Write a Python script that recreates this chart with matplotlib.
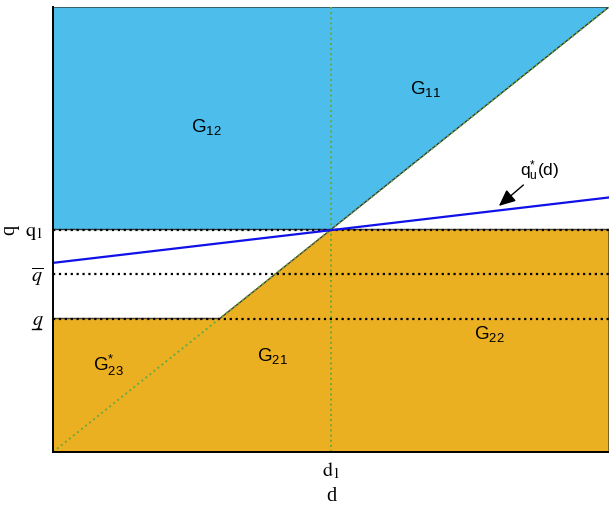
import matplotlib
matplotlib.use("Agg")
import matplotlib.pyplot as plt
import matplotlib.transforms as mtransforms
from matplotlib.lines import Line2D

plt.rcParams["font.family"] = ["Liberation Sans", "DejaVu Sans"]
plt.rcParams["mathtext.fontset"] = "custom"
plt.rcParams["mathtext.rm"] = "Liberation Sans"
plt.rcParams["mathtext.it"] = "Liberation Sans:italic"

# threshold levels
d1 = 0.5
q1 = 0.5
q_bar = 0.4
q_low = 0.3

# q_u*(d) line: values at d=0 and d=1
qu_d = [0.0, 1.0]
qu_q = [0.425, 0.572]

# region labels
region_names = [r"G$_{12}$", r"G$_{11}$", r"G$_{21}$", r"G$_{22}$", r"G$_{23}^{*}$"]
region_x = [0.275, 0.67, 0.395, 0.785, 0.10]
region_y = [0.73, 0.815, 0.215, 0.265, 0.195]

blue_fill = "#4DBDEC"
orange_fill = "#EBB022"
green = "#6BA83C"

fig = plt.figure(figsize=(6.09, 5.07), dpi=100)
ax = fig.add_axes([53 / 609, 55 / 507, 556 / 609, 445 / 507])

# G1 region: above q1 and above the diagonal
ax.fill([0, q1, 1, 0], [q1, q1, 1, 1], color=blue_fill,
        edgecolor="#2b3b40", linewidth=1.0, zorder=1)
# G2 region: below q1 and right of the diagonal, plus everything below q_low
ax.fill([0, 1, 1, q1, q_low, 0], [0, 0, q1, q1, q_low, q_low],
        color=orange_fill, edgecolor="#4a4030", linewidth=1.0, zorder=1)

# diagonal q = d and vertical at d1
ax.plot([0, 1], [0, 1], linestyle=":", color=green, linewidth=1.4, zorder=2)
ax.axvline(d1, linestyle=":", color=green, linewidth=1.4, zorder=2)

for level in (q1, q_bar, q_low):
    ax.axhline(level, linestyle=":", color="black", linewidth=1.6, zorder=3)

ax.plot(qu_d, qu_q, color="#1010E8", linewidth=1.6, zorder=4)

for name, x, y in zip(region_names, region_x, region_y):
    ax.text(x, y, name, fontsize=13.5, ha="center", va="center", zorder=5)

ax.text(0.875, 0.632, r"q$_\mathrm{u}^{*}$(d)", fontsize=12.5,
        ha="center", va="center")
ax.annotate("", xy=(0.802, 0.553), xytext=(0.846, 0.6),
            arrowprops=dict(arrowstyle="-|>,head_length=1.0,head_width=0.45",
                            color="black", lw=1.0, shrinkA=0, shrinkB=0))

ax.set_xlim(0, 1)
ax.set_ylim(0, 1)
ax.set_xticks([d1])
ax.set_xticklabels([r"$\mathrm{d}_1$"], math_fontfamily="stix", fontsize=14.5)
ax.set_yticks([q1, q_bar, q_low])
ax.set_yticklabels([r"$\mathrm{q}_1$", r"$\overline{q}$", r"$q$"],
                   math_fontfamily="stix", fontsize=14.5)
ax.tick_params(axis="y", length=0, pad=7)
ax.tick_params(axis="x", length=0, pad=6)
ax.set_xlabel("d", fontfamily="Liberation Serif", fontsize=14.5, labelpad=4)
ax.set_ylabel("q", fontfamily="Liberation Serif", fontsize=14.5, labelpad=4)

# mathtext has no \underline, so draw the bar under the lower q by hand
bar_shift = mtransforms.ScaledTranslation(0, -10 / 100, fig.dpi_scale_trans)
bar_trans = ax.get_yaxis_transform() + bar_shift
ax.add_line(Line2D([-21 / 556, -12 / 556], [q_low, q_low], color="black",
                   linewidth=1.0, transform=bar_trans, clip_on=False))

for side in ("top", "right"):
    ax.spines[side].set_visible(False)
for side in ("left", "bottom"):
    ax.spines[side].set_linewidth(1.4)
    ax.spines[side].set_zorder(6)

fig.savefig("out.png", dpi=100)
